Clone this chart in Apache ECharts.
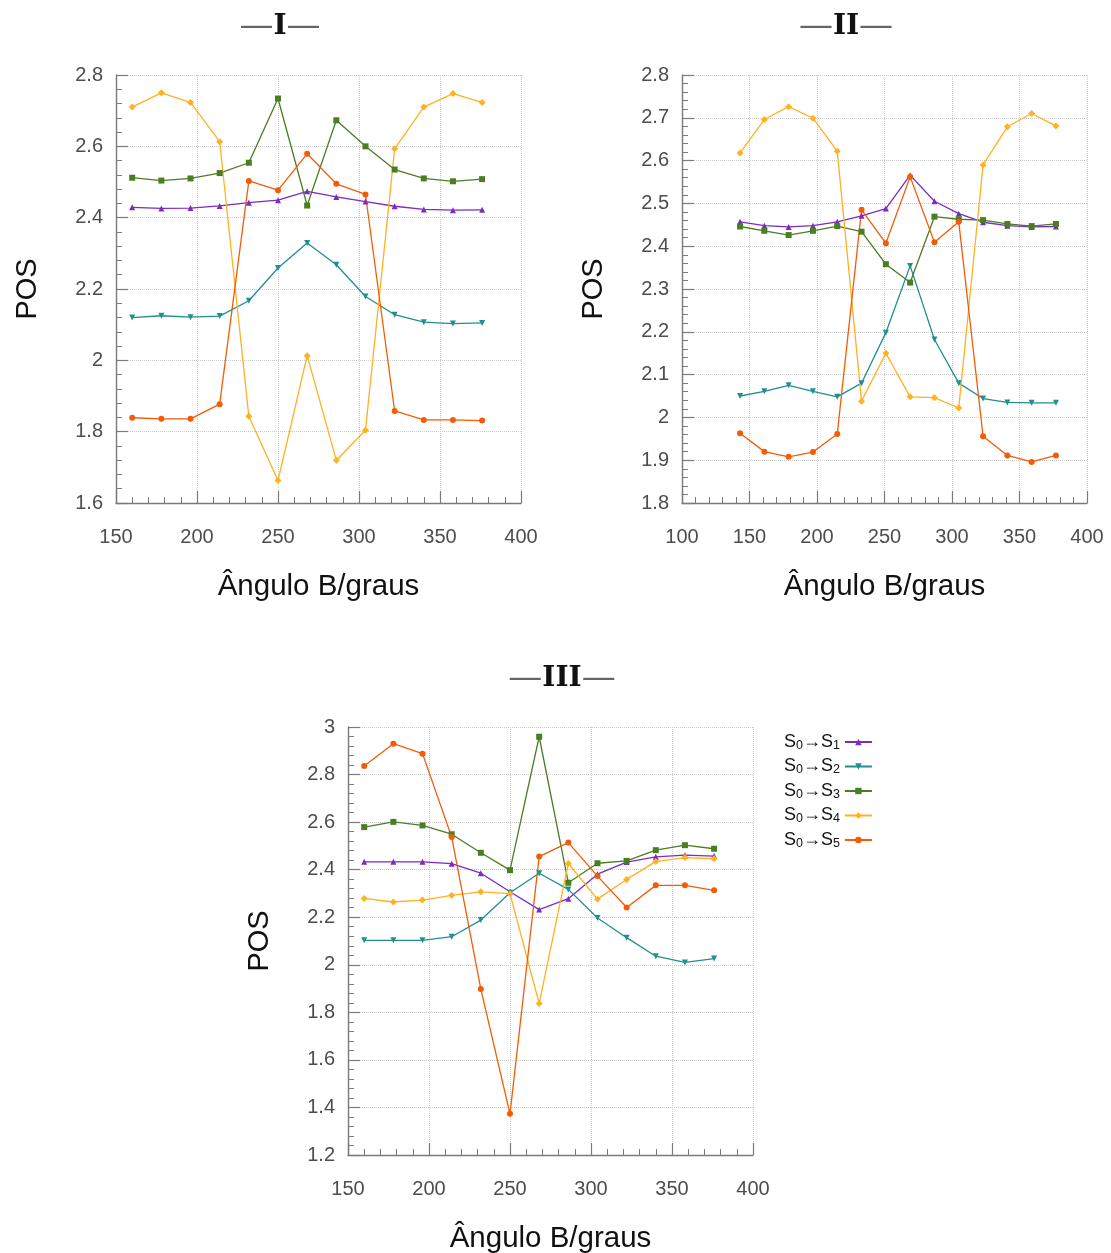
<!DOCTYPE html>
<html>
<head>
<meta charset="utf-8">
<script src="https://cdn.jsdelivr.net/npm/echarts@6/dist/echarts.min.js"></script>
<style>
html,body{margin:0;padding:0;background:#fff;}
#chart{width:1111px;height:1253px;}
</style>
</head>
<body>
<div id="chart"></div>
<script>
// ---- data ----
const seriesNames = ['S0→S1', 'S0→S2', 'S0→S3', 'S0→S4', 'S0→S5'];

const anglesI = [160, 178, 196, 214, 232, 250, 268, 286, 304, 322, 340, 358, 376];
const I_S1 = [2.429, 2.426, 2.427, 2.433, 2.442, 2.449, 2.474, 2.458, 2.445, 2.432, 2.423, 2.421, 2.422];
const I_S2 = [2.120, 2.125, 2.121, 2.124, 2.167, 2.259, 2.329, 2.268, 2.179, 2.128, 2.107, 2.103, 2.105];
const I_S3 = [2.512, 2.504, 2.510, 2.525, 2.554, 2.734, 2.434, 2.673, 2.600, 2.535, 2.510, 2.502, 2.508];
const I_S4 = [2.710, 2.750, 2.723, 2.613, 1.843, 1.663, 2.013, 1.720, 1.804, 2.593, 2.710, 2.748, 2.723];
const I_S5 = [1.839, 1.836, 1.836, 1.877, 2.503, 2.477, 2.579, 2.495, 2.465, 1.858, 1.833, 1.833, 1.831];

const anglesII = [143, 161, 179, 197, 215, 233, 251, 269, 287, 305, 323, 341, 359, 377];
const II_S1 = [2.457, 2.448, 2.445, 2.448, 2.457, 2.471, 2.488, 2.566, 2.505, 2.476, 2.456, 2.448, 2.445, 2.446];
const II_S2 = [2.050, 2.061, 2.075, 2.061, 2.048, 2.080, 2.198, 2.354, 2.182, 2.080, 2.044, 2.035, 2.034, 2.034];
const II_S3 = [2.446, 2.436, 2.426, 2.436, 2.447, 2.434, 2.358, 2.315, 2.469, 2.463, 2.461, 2.452, 2.447, 2.452];
const II_S4 = [2.618, 2.696, 2.726, 2.699, 2.622, 2.038, 2.150, 2.048, 2.046, 2.022, 2.590, 2.679, 2.710, 2.681];
const II_S5 = [1.963, 1.920, 1.908, 1.919, 1.961, 2.485, 2.407, 2.562, 2.409, 2.457, 1.956, 1.911, 1.896, 1.911];

const anglesIII = [160, 178, 196, 214, 232, 250, 268, 286, 304, 322, 340, 358, 376];
const III_S1 = [2.433, 2.433, 2.433, 2.425, 2.385, 2.307, 2.232, 2.278, 2.381, 2.432, 2.454, 2.461, 2.457];
const III_S2 = [2.103, 2.103, 2.103, 2.118, 2.188, 2.303, 2.385, 2.317, 2.197, 2.114, 2.036, 2.010, 2.026];
const III_S3 = [2.579, 2.601, 2.586, 2.549, 2.471, 2.398, 2.959, 2.345, 2.427, 2.437, 2.482, 2.503, 2.488];
const III_S4 = [2.279, 2.264, 2.272, 2.292, 2.307, 2.299, 1.837, 2.426, 2.276, 2.359, 2.434, 2.451, 2.446];
const III_S5 = [2.836, 2.930, 2.888, 2.537, 1.898, 1.373, 2.455, 2.514, 2.373, 2.241, 2.334, 2.334, 2.313];

const panelTitles = ['I', 'II', 'III'];
const xAxisTitle = 'Ângulo B/graus';
const yAxisTitle = 'POS';

// ---- styles ----
const colors = ['#7b2cbf', '#1f8f8f', '#4b7d23', '#ffb11f', '#f45b06'];
const symbols = ['triangle', 'triangle', 'rect', 'diamond', 'circle'];
const symbolRot = [0, 180, 0, 0, 0];
const symbolSizes = [6, 6, 6, 7, 6];

const panels = [
  { angles: anglesI, vals: [I_S1, I_S2, I_S3, I_S4, I_S5], grid: { left: 116, top: 75, width: 405, height: 428 },
    x: [150, 400, 50], y: [1.6, 2.8, 0.2] },
  { angles: anglesII, vals: [II_S1, II_S2, II_S3, II_S4, II_S5], grid: { left: 682, top: 75, width: 405, height: 428 },
    x: [100, 400, 50], y: [1.8, 2.8, 0.1] },
  { angles: anglesIII, vals: [III_S1, III_S2, III_S3, III_S4, III_S5], grid: { left: 348, top: 727, width: 405, height: 428 },
    x: [150, 400, 50], y: [1.2, 3.0, 0.2] }
];

const FONT = 'Liberation Sans, Arial, sans-serif';
const axisColor = '#7a7a7a';

function axisCommon() {
  return {
    axisLine: { show: true, onZero: false, lineStyle: { color: axisColor, width: 1.4 } },
    axisTick: { show: true, inside: true, length: 12, lineStyle: { color: axisColor, width: 1.2 } },
    minorTick: { show: true, splitNumber: 5, length: 6, lineStyle: { color: axisColor, width: 1 } },
    splitLine: { show: true, lineStyle: { type: 'dotted', color: '#cccccc', width: 1 } },
    minorSplitLine: { show: false }
  };
}

const grids = [], xAxes = [], yAxes = [], series = [], graphics = [];

panels.forEach((p, pi) => {
  grids.push(p.grid);
  xAxes.push(Object.assign(axisCommon(), {
    type: 'value', gridIndex: pi, min: p.x[0], max: p.x[1], interval: p.x[2],
    axisLabel: { color: '#4d4d4d', fontSize: 20, fontFamily: FONT, margin: 24 }
  }));
  yAxes.push(Object.assign(axisCommon(), {
    type: 'value', gridIndex: pi, min: p.y[0], max: p.y[1], interval: p.y[2],
    axisLabel: { color: '#4d4d4d', fontSize: 20, fontFamily: FONT, margin: 13,
      formatter: v => String(+v.toFixed(2)) }
  }));
  p.vals.forEach((vals, k) => {
    series.push({
      name: seriesNames[k], type: 'line', xAxisIndex: pi, yAxisIndex: pi,
      data: p.angles.map((a, i) => [a, vals[i]]),
      symbol: symbols[k], symbolRotate: symbolRot[k], symbolSize: symbolSizes[k],
      showAllSymbol: true,
      lineStyle: { color: colors[k], width: 1.3 },
      itemStyle: { color: colors[k] },
      emphasis: { disabled: true },
      animation: false
    });
  });
  const g = p.grid;
  const cx = g.left + g.width / 2, cy = g.top + g.height / 2;
  graphics.push({
    type: 'text', x: g.left - 88, y: cy, rotation: Math.PI / 2,
    style: { text: yAxisTitle, font: '29px ' + FONT, fill: '#111', textAlign: 'center', textVerticalAlign: 'middle' }
  });
  graphics.push({
    type: 'text', x: cx, y: g.top + g.height + 84,
    style: { text: xAxisTitle, font: '29.5px ' + FONT, fill: '#111', textAlign: 'center', textVerticalAlign: 'middle' }
  });
});

const titlePos = [[280, 27], [846, 27], [562, 679]];
panelTitles.forEach((t, i) => {
  graphics.push({
    type: 'text', x: titlePos[i][0], y: titlePos[i][1],
    style: {
      text: '{d|—}{t|' + t + '}{d|—}',
      textAlign: 'center', textVerticalAlign: 'middle',
      rich: {
        d: { fontFamily: 'DejaVu Serif, serif', fontSize: 34, fill: '#666', color: '#666', fontWeight: 'normal' },
        t: { fontFamily: 'DejaVu Serif, serif', fontSize: 28, fill: '#111', color: '#111', fontWeight: 'bold' }
      }
    }
  });
});

const chart = echarts.init(document.getElementById('chart'), null, { renderer: 'canvas' });
chart.setOption({
  animation: false,
  backgroundColor: '#ffffff',
  grid: grids,
  xAxis: xAxes,
  yAxis: yAxes,
  graphic: graphics,
  legend: {
    data: seriesNames,
    orient: 'vertical', left: 779, top: 728,
    align: 'right', selectedMode: false,
    itemWidth: 27, itemHeight: 8, itemGap: 5.5,
    formatter: name => '{n|S}{s|0}{n|→S}{s|' + name.slice(-1) + '}',
    textStyle: {
      rich: {
        n: { fontFamily: FONT, fontSize: 18, color: '#111', lineHeight: 20 },
        s: { fontFamily: FONT, fontSize: 12.5, color: '#111', lineHeight: 10, verticalAlign: 'bottom' }
      }
    }
  },
  series: series
});
</script>
</body>
</html>
